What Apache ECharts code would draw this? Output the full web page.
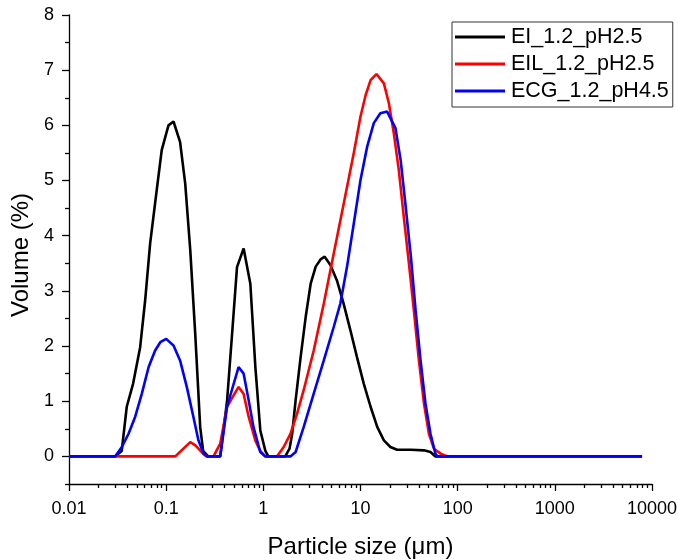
<!DOCTYPE html>
<html><head><meta charset="utf-8">
<script src="https://cdn.jsdelivr.net/npm/echarts@6.0.0/dist/echarts.min.js"></script>
<style>html,body{margin:0;padding:0;background:#fff}#c{width:678px;height:560px}</style>
</head><body><div id="c"></div>
<script>
const seriesNames = ['EI_1.2_pH2.5', 'EIL_1.2_pH2.5', 'ECG_1.2_pH4.5'];
const seriesColors = ['#000000', '#ff0000', '#0000ff'];

// [particle size (µm), volume (%)]
const eiData = [[0.01,0],[0.0298,0],[0.0349,0.1],[0.0393,0.9],[0.0457,1.32],[0.054,1.98],[0.0608,2.83],[0.0684,3.86],[0.080,4.83],[0.090,5.55],[0.1056,6.0],[0.119,6.07],[0.139,5.7],[0.157,4.95],[0.177,3.74],[0.199,2.23],[0.224,0.53],[0.240,0.1],[0.271,0],[0.36,0],[0.423,1.0],[0.476,2.2],[0.536,3.43],[0.627,3.77],[0.735,3.13],[0.828,1.62],[0.931,0.47],[1.049,0.1],[1.127,0],[1.68,0],[1.86,0.14],[1.98,0.41],[2.15,1.02],[2.42,1.8],[2.73,2.53],[3.07,3.13],[3.46,3.44],[3.88,3.57],[4.28,3.62],[4.90,3.47],[5.72,3.19],[6.7,2.77],[7.86,2.29],[9.2,1.8],[10.8,1.32],[12.7,0.9],[14.9,0.53],[17.4,0.29],[20.3,0.17],[23.8,0.12],[33,0.12],[45,0.11],[52.5,0.08],[59,0],[7900,0]];
const eilData = [[0.01,0],[0.124,0],[0.177,0.26],[0.2,0.2],[0.24,0.05],[0.263,0],[0.307,0],[0.36,0.23],[0.423,0.9],[0.556,1.26],[0.627,1.13],[0.706,0.72],[0.83,0.28],[0.93,0.1],[1.05,0],[1.38,0],[1.62,0.17],[1.90,0.41],[2.22,0.77],[2.60,1.2],[3.30,1.92],[4.19,2.77],[5.31,3.68],[6.73,4.59],[8.53,5.5],[10.0,6.16],[11.3,6.55],[12.7,6.82],[14.6,6.93],[17.4,6.76],[19.6,6.4],[22.0,5.86],[24.8,5.19],[27.9,4.34],[31.5,3.5],[35.4,2.65],[39.9,1.74],[45.0,0.96],[50.6,0.41],[57.0,0.14],[66.8,0.05],[78.3,0],[7900,0]];
const ecgData = [[0.01,0],[0.0298,0],[0.035,0.17],[0.041,0.41],[0.048,0.72],[0.056,1.13],[0.066,1.62],[0.077,1.92],[0.087,2.07],[0.1,2.13],[0.119,2.01],[0.139,1.74],[0.163,1.26],[0.191,0.71],[0.215,0.29],[0.242,0.05],[0.26,0],[0.36,0],[0.423,0.9],[0.556,1.62],[0.627,1.5],[0.706,1.02],[0.792,0.53],[0.93,0.08],[1.05,0],[1.90,0],[2.15,0.08],[2.60,0.53],[3.30,1.14],[4.19,1.74],[5.31,2.35],[6.2,2.77],[7.27,3.44],[8.53,4.22],[10,5.01],[11.7,5.61],[13.7,6.04],[16.0,6.22],[18.8,6.25],[22.9,5.95],[25.9,5.37],[29.2,4.52],[33.0,3.62],[36.9,2.65],[41.5,1.74],[46.6,0.96],[52.5,0.41],[59,0.05],[62,0],[7900,0]];

const xTickValues = [0.01, 0.1, 1, 10, 100, 1000, 10000];
const xTickLabels = ['0.01', '0.1', '1', '10', '100', '1000', '10000'];
const xMinorMultipliers = [2, 3, 4, 5, 6, 7, 8, 9];
const yTickValues = [0, 1, 2, 3, 4, 5, 6, 7, 8];
const yTickLabels = ['0', '1', '2', '3', '4', '5', '6', '7', '8'];
const yMinorTicks = [-0.5, 0.5, 1.5, 2.5, 3.5, 4.5, 5.5, 6.5, 7.5];

const xMinorTicks = [];
xTickValues.slice(0, -1).forEach(d => xMinorMultipliers.forEach(m => xMinorTicks.push(+(d * m).toPrecision(6))));

const FONT = "'Liberation Sans', Arial, Helvetica, sans-serif";
const chart = echarts.init(document.getElementById('c'), null, {renderer: 'canvas'});
const axisLineStyle = {color: '#000', width: 1.3};

const option = {
  animation: false,
  backgroundColor: '#fff',
  textStyle: {fontFamily: FONT, color: '#000'},
  grid: {left: 69, right: 26, top: 15, bottom: 76, containLabel: false, outerBoundsMode: 'none'},
  legend: {
    data: seriesNames,
    orient: 'vertical',
    left: 452, top: 22,
    padding: [4, 4, 5, 3],
    itemGap: 5,
    itemWidth: 50, itemHeight: 3,
    icon: 'rect',
    borderColor: '#333', borderWidth: 1,
    textStyle: {fontSize: 21.5, color: '#000', fontFamily: FONT, padding: [0, 0, 0, 1]}
  },
  xAxis: [
    {
      type: 'log', min: 0.01, max: 10000, position: 'bottom',
      name: 'Particle size (μm)', nameLocation: 'middle', nameGap: 51,
      nameTextStyle: {fontSize: 24, color: '#000', fontFamily: FONT},
      axisLine: {onZero: false, lineStyle: axisLineStyle},
      axisTick: {customValues: xTickValues, length: 7, lineStyle: axisLineStyle},
      axisLabel: {
        customValues: xTickValues, fontSize: 18, color: '#000', margin: 16, fontFamily: FONT,
        formatter: v => {
          const i = xTickValues.findIndex(t => Math.abs(Math.log10(t) - Math.log10(v)) < 1e-6);
          return i >= 0 ? xTickLabels[i] : '';
        }
      },
      splitLine: {show: false}
    },
    {
      type: 'log', min: 0.01, max: 10000, position: 'bottom',
      axisLine: {show: false, onZero: false},
      axisTick: {customValues: xMinorTicks, length: 4, lineStyle: axisLineStyle},
      axisLabel: {show: false},
      splitLine: {show: false}
    }
  ],
  yAxis: [
    {
      type: 'value', min: -0.5, max: 8, position: 'left',
      name: 'Volume (%)', nameLocation: 'middle', nameGap: 34,
      nameTextStyle: {fontSize: 24, color: '#000', fontFamily: FONT, padding: [0, 11, 0, 0]},
      axisLine: {show: true, onZero: false, lineStyle: axisLineStyle},
      axisTick: {show: true, customValues: yTickValues, length: 7, lineStyle: axisLineStyle},
      axisLabel: {
        customValues: yTickValues, fontSize: 18, color: '#000', margin: 15, fontFamily: FONT,
        formatter: v => {
          const i = yTickValues.findIndex(t => Math.abs(t - v) < 1e-6);
          return i >= 0 ? yTickLabels[i] : '';
        }
      },
      splitLine: {show: false}
    },
    {
      type: 'value', min: -0.5, max: 8, position: 'left',
      axisLine: {show: false, onZero: false},
      axisTick: {show: true, customValues: yMinorTicks, length: 4, lineStyle: axisLineStyle},
      axisLabel: {show: false},
      splitLine: {show: false}
    }
  ],
  series: [eiData, eilData, ecgData].map((d, i) => ({
    name: seriesNames[i],
    type: 'line',
    xAxisIndex: 0, yAxisIndex: 0,
    data: d,
    symbol: 'none',
    smooth: false,
    lineStyle: {color: seriesColors[i], width: 2.6},
    itemStyle: {color: seriesColors[i]},
    z: 2 + i
  }))
};
chart.setOption(option);
</script>
</body></html>
